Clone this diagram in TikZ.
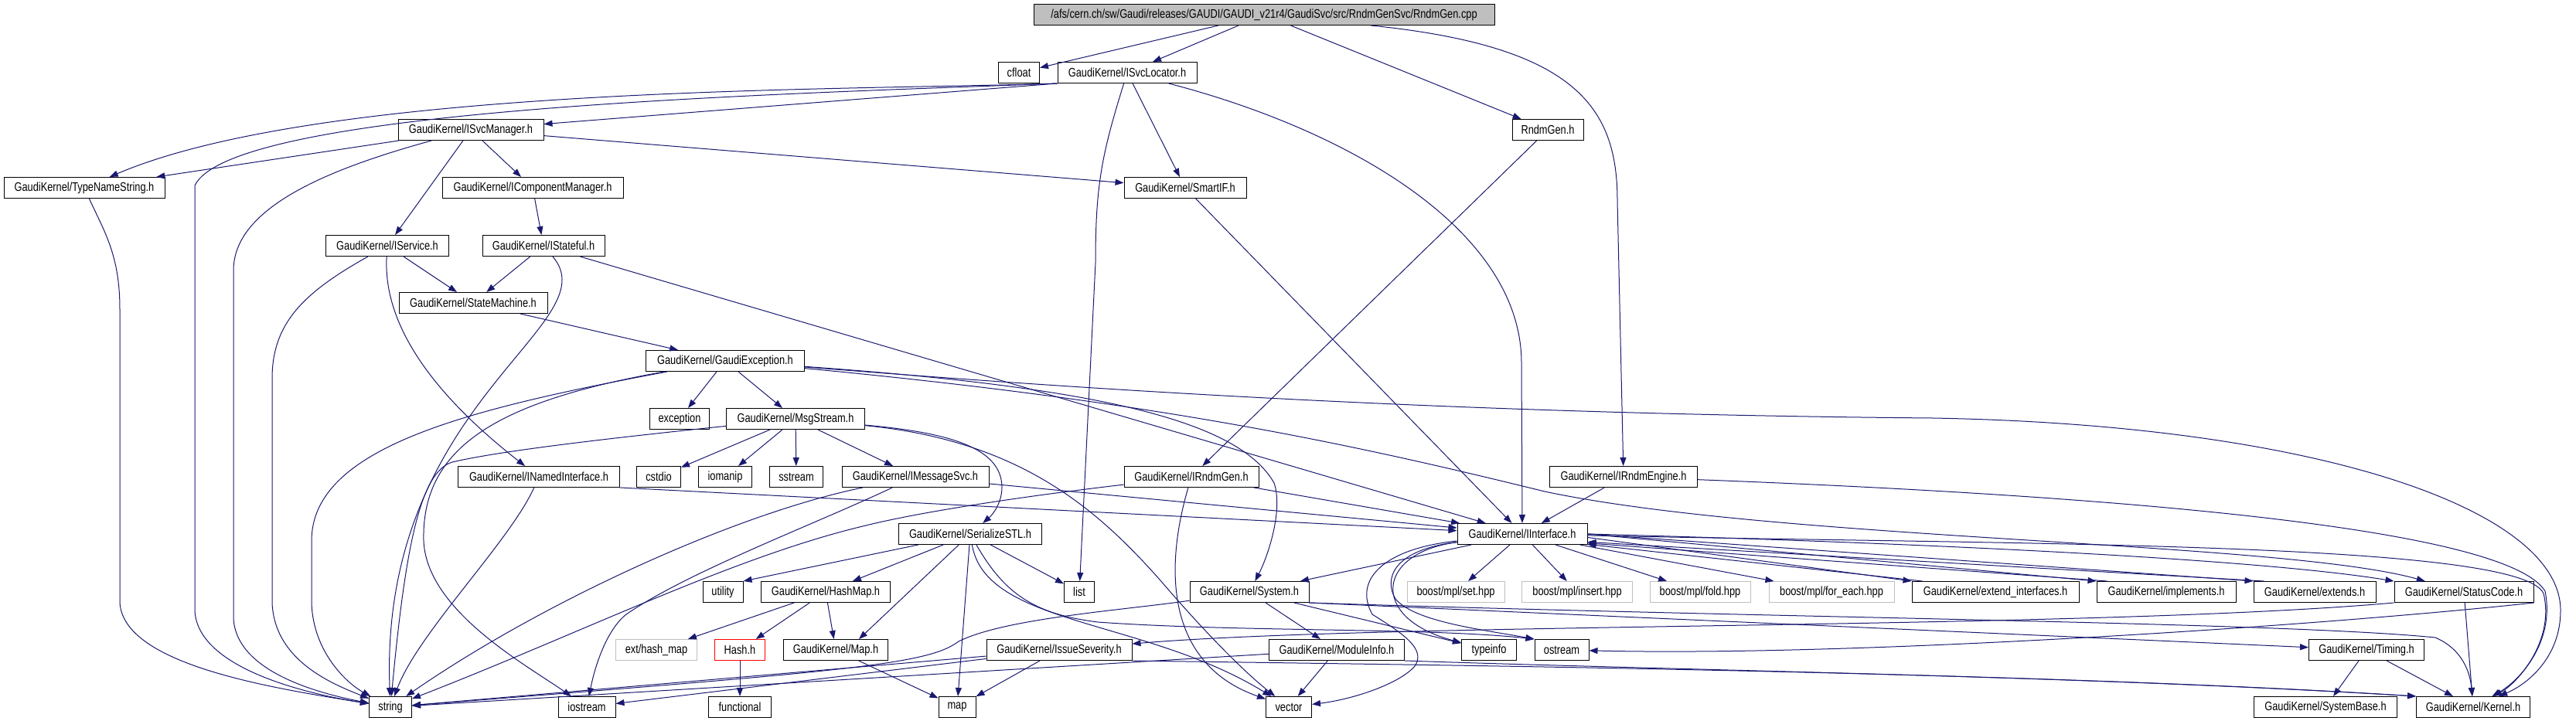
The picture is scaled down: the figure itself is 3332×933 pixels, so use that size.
\documentclass[tikz,border=0pt]{standalone}
\usepackage{fontspec}
\setmainfont[FakeStretch=0.8]{Liberation Sans}
\usetikzlibrary{arrows.meta}
\definecolor{depblue}{HTML}{191970}
\definecolor{rootgray}{HTML}{BFBFBF}
\definecolor{sysgray}{HTML}{BFBFBF}

\begin{document}
\begin{tikzpicture}[x=1pt, y=-1pt,
    hdr/.style={draw=black, line width=1pt, minimum height=27pt, inner sep=2pt,
        font=\fontsize{16}{18}\selectfont},
    extbox/.style={hdr, draw=sysgray},
    hashbox/.style={hdr, draw=red},
    rootbox/.style={hdr, fill=rootgray},
    dep/.style={draw=depblue, line width=1pt, -{Triangle[length=11pt,width=8pt]}}]
    \useasboundingbox (0,0) rectangle (3332,933);

    % the source file and its first includes
    \node[rootbox, minimum width=596pt] (root) at (1635,19)
        {/afs/cern.ch/sw/Gaudi/releases/GAUDI/GAUDI\_v21r4/GaudiSvc/src/RndmGenSvc/RndmGen.cpp};
    \node[hdr, minimum width=53pt] (cfloat) at (1318,94) {cfloat};
    \node[hdr, minimum width=180pt] (isvcloc) at (1458,94) {GaudiKernel/ISvcLocator.h};
    \node[hdr, minimum width=188pt] (isvcmgr) at (609,168) {GaudiKernel/ISvcManager.h};
    \node[hdr, minimum width=92pt] (rndmgen) at (2002,168) {RndmGen.h};
    \node[hdr, minimum width=208pt] (typename) at (109,243) {GaudiKernel/TypeNameString.h};
    \node[hdr, minimum width=234pt] (icompmgr) at (689,243) {GaudiKernel/IComponentManager.h};
    \node[hdr, minimum width=158pt] (smartif) at (1533,243) {GaudiKernel/SmartIF.h};
    \node[hdr, minimum width=159pt] (iservice) at (501,318) {GaudiKernel/IService.h};
    \node[hdr, minimum width=158pt] (istateful) at (703,318) {GaudiKernel/IStateful.h};
    \node[hdr, minimum width=192pt] (statemachine) at (612,392) {GaudiKernel/StateMachine.h};
    \node[hdr, minimum width=205pt] (gaudiexc) at (938,467) {GaudiKernel/GaudiException.h};
    \node[hdr, minimum width=77pt] (exception) at (879,542) {exception};
    \node[hdr, minimum width=179pt] (msgstream) at (1029,542) {GaudiKernel/MsgStream.h};

    % middle rows
    \node[hdr, minimum width=209pt] (inamed) at (697,617) {GaudiKernel/INamedInterface.h};
    \node[hdr, minimum width=57pt] (cstdio) at (852,617) {cstdio};
    \node[hdr, minimum width=69pt] (iomanip) at (938,617) {iomanip};
    \node[hdr, minimum width=69pt] (sstream) at (1030,617) {sstream};
    \node[hdr, minimum width=190pt] (imsgsvc) at (1184,617) {GaudiKernel/IMessageSvc.h};
    \node[hdr, minimum width=174pt] (irndmgen) at (1541,617) {GaudiKernel/IRndmGen.h};
    \node[hdr, minimum width=191pt] (irndmeng) at (2100,617) {GaudiKernel/IRndmEngine.h};
    \node[hdr, minimum width=185pt] (serialize) at (1255,691) {GaudiKernel/SerializeSTL.h};
    \node[hdr, minimum width=168pt] (iinterface) at (1969,691) {GaudiKernel/IInterface.h};

    \node[hdr, minimum width=52pt] (utility) at (935,766) {utility};
    \node[hdr, minimum width=167pt] (hashmap) at (1068,766) {GaudiKernel/HashMap.h};
    \node[hdr, minimum width=39pt] (list) at (1396,766) {list};
    \node[hdr, minimum width=154pt] (system) at (1616,766) {GaudiKernel/System.h};
    \node[extbox, minimum width=126pt] (mplset) at (1883,766) {boost/mpl/set.hpp};
    \node[extbox, minimum width=143pt] (mplinsert) at (2040,766) {boost/mpl/insert.hpp};
    \node[extbox, minimum width=130pt] (mplfold) at (2199,766) {boost/mpl/fold.hpp};
    \node[extbox, minimum width=162pt] (mplforeach) at (2369,766) {boost/mpl/for\_each.hpp};
    \node[hdr, minimum width=216pt] (extifc) at (2581,766) {GaudiKernel/extend\_interfaces.h};
    \node[hdr, minimum width=180pt] (implements) at (2802,766) {GaudiKernel/implements.h};
    \node[hdr, minimum width=158pt] (extends) at (2994,766) {GaudiKernel/extends.h};
    \node[hdr, minimum width=180pt] (statuscode) at (3187,766) {GaudiKernel/StatusCode.h};

    \node[extbox, minimum width=105pt] (exthashmap) at (849,841) {ext/hash\_map};
    \node[hashbox, minimum width=65pt] (hash) at (957,841) {Hash.h};
    \node[hdr, minimum width=135pt] (mapk) at (1081,841) {GaudiKernel/Map.h};
    \node[hdr, minimum width=188pt] (issue) at (1370,841) {GaudiKernel/IssueSeverity.h};
    \node[hdr, minimum width=175pt] (moduleinfo) at (1729,841) {GaudiKernel/ModuleInfo.h};
    \node[hdr, minimum width=71pt] (typeinfo) at (1926,841) {typeinfo};
    \node[hdr, minimum width=70pt] (ostream) at (2020,841) {ostream};
    \node[hdr, minimum width=149pt] (timing) at (3061,841) {GaudiKernel/Timing.h};

    % bottom row
    \node[hdr, minimum width=55pt] (string) at (505,915) {string};
    \node[hdr, minimum width=74pt] (iostream) at (759,915) {iostream};
    \node[hdr, minimum width=81pt] (functional) at (957,915) {functional};
    \node[hdr, minimum width=48pt] (map) at (1238,915) {map};
    \node[hdr, minimum width=59pt] (vector) at (1667,915) {vector};
    \node[hdr, minimum width=185pt] (systembase) at (3008,915) {GaudiKernel/SystemBase.h};
    \node[hdr, minimum width=147pt] (kernel) at (3199,915) {GaudiKernel/Kernel.h};

    % RndmGen.cpp
    \draw[dep] (root) -- (cfloat);
    \draw[dep] (root) -- (isvcloc);
    \draw[dep] (root) -- (rndmgen);
    \draw[dep] (root) .. controls (2040,60) and (2092,140) .. (2092,260) -- (irndmeng);

    % ISvcLocator.h
    \draw[dep] (isvcloc.south west) .. controls (1100,117) and (420,110) .. (typename);
    \draw[dep] (isvcloc.south west) .. controls (1000,122) and (300,140) .. (252,240) -- (252,790)
        .. controls (255,860) and (380,895) .. (string);
    \draw[dep] (isvcloc.south west) -- (isvcmgr);
    \draw[dep] (isvcloc) .. controls (1425,200) and (1417,240) .. (1417,340) -- (list);
    \draw[dep] (isvcloc) -- (smartif);
    \draw[dep] (isvcloc) .. controls (1750,170) and (1968,300) .. (1968,470) -- (iinterface);

    % ISvcManager.h
    \draw[dep] (isvcmgr) -- (typename);
    \draw[dep] (isvcmgr) .. controls (420,220) and (302,270) .. (302,350) -- (302,800)
        .. controls (305,865) and (400,895) .. (string);
    \draw[dep] (isvcmgr) -- (iservice);
    \draw[dep] (isvcmgr) -- (icompmgr);
    \draw[dep] (isvcmgr) -- (smartif);

    \draw[dep] (typename) .. controls (135,300) and (155,330) .. (155,400) -- (155,780)
        .. controls (160,860) and (350,890) .. (string);
    \draw[dep] (icompmgr) -- (istateful);
    \draw[dep] (smartif) -- (iinterface);
    \draw[dep] (rndmgen) -- (irndmgen);

    % IService.h and IStateful.h
    \draw[dep] (iservice) .. controls (390,380) and (352,420) .. (352,490) -- (352,780)
        .. controls (355,855) and (430,885) .. (string);
    \draw[dep] (iservice) -- (statemachine);
    \draw[dep] (iservice) .. controls (495,420) and (560,510) .. (inamed);
    \draw[dep] (istateful) -- (statemachine);
    \draw[dep] (istateful) .. controls (790,420) and (490,520) .. (string);
    \draw[dep] (istateful) -- (iinterface);
    \draw[dep] (statemachine) -- (gaudiexc);

    % GaudiException.h
    \draw[dep] (gaudiexc) .. controls (600,530) and (403,580) .. (403,700) -- (403,780)
        .. controls (405,845) and (450,885) .. (string);
    \draw[dep] (gaudiexc) .. controls (640,520) and (545,580) .. (548,700)
        .. controls (552,790) and (680,860) .. (iostream);
    \draw[dep] (gaudiexc) -- (exception);
    \draw[dep] (gaudiexc) -- (msgstream);
    \draw[dep] (gaudiexc) .. controls (1400,500) and (1600,540) .. (1648,625)
        .. controls (1660,660) and (1640,720) .. (system);
    \draw[dep] (gaudiexc) .. controls (1500,520) and (1750,575) .. (1998,636)
        .. controls (2300,700) and (2950,700) .. (statuscode);
    \draw[dep] (gaudiexc) .. controls (1300,495) and (1800,535) .. (2500,541)
        .. controls (3000,550) and (3312,660) .. (3312,790)
        .. controls (3312,850) and (3270,885) .. (kernel);

    % MsgStream.h
    \draw[dep] (msgstream) .. controls (760,570) and (640,585) .. (585,598)
        .. controls (545,610) and (525,700) .. (string);
    \draw[dep] (msgstream) -- (cstdio);
    \draw[dep] (msgstream) -- (iomanip);
    \draw[dep] (msgstream) -- (sstream);
    \draw[dep] (msgstream) -- (imsgsvc);
    \draw[dep] (msgstream) .. controls (1230,560) and (1295,580) .. (1296,630)
        .. controls (1296,650) and (1285,665) .. (serialize);
    \draw[dep] (msgstream) .. controls (1320,570) and (1420,660) .. (1500,750)
        .. controls (1560,820) and (1610,870) .. (vector);

    % INamedInterface.h, IMessageSvc.h, IRndmGen.h, IRndmEngine.h
    \draw[dep] (inamed.south east) -- (iinterface);
    \draw[dep] (inamed) .. controls (660,700) and (540,820) .. (string);
    \draw[dep] (imsgsvc) -- (iinterface);
    \draw[dep] (imsgsvc) .. controls (950,665) and (700,780) .. (string);
    \draw[dep] (imsgsvc) .. controls (1050,680) and (890,740) .. (810,795)
        .. controls (785,815) and (770,860) .. (iostream);
    \draw[dep] (irndmgen) -- (iinterface);
    \draw[dep] (irndmgen) .. controls (1300,645) and (1180,665) .. (1120,680)
        .. controls (950,720) and (750,820) .. (string);
    \draw[dep] (irndmgen) .. controls (1505,740) and (1510,860) .. (vector);
    \draw[dep] (irndmeng) -- (iinterface);
    \draw[dep] (irndmeng) .. controls (2700,640) and (3240,680) .. (3292,765)
        .. controls (3305,830) and (3260,880) .. (kernel);

    % SerializeSTL.h and HashMap.h
    \draw[dep] (serialize) -- (utility.north east);
    \draw[dep] (serialize) -- (hashmap);
    \draw[dep] (serialize) -- (mapk.25);
    \draw[dep] (serialize) -- (map);
    \draw[dep] (serialize) -- (list);
    \draw[dep] (serialize) .. controls (1275,810) and (1480,800) .. (vector);
    \draw[dep] (serialize) .. controls (1300,770) and (1340,795) .. (1420,805)
        .. controls (1600,818) and (1850,812) .. (ostream.north west);
    \draw[dep] (hashmap) -- (exthashmap);
    \draw[dep] (hashmap) -- (hash);
    \draw[dep] (hashmap) -- (mapk);
    \draw[dep] (hash) -- (functional);
    \draw[dep] (mapk) -- (map);

    % IInterface.h
    \draw[dep] (iinterface) -- (system);
    \draw[dep] (iinterface) -- (mplset);
    \draw[dep] (iinterface) -- (mplinsert);
    \draw[dep] (iinterface) -- (mplfold);
    \draw[dep] (iinterface) -- (mplforeach);
    \draw[dep] (iinterface.-3) -- (extifc.north west);
    \draw[dep] ([xshift=14pt]extifc.north west) -- (iinterface.-9);
    \draw[dep] (iinterface.east) -- (implements.north west);
    \draw[dep] ([xshift=14pt]implements.north west) -- (iinterface.-8);
    \draw[dep] (iinterface.east) -- (extends.north west);
    \draw[dep] ([xshift=14pt]extends.north west) -- (iinterface.-7);
    \draw[dep] (iinterface.east) .. controls (2400,700) and (2900,720) .. (statuscode.north west);
    \draw[dep] (iinterface) .. controls (1780,715) and (1770,800) .. (typeinfo);
    \draw[dep] (iinterface) .. controls (1800,712) and (1790,750) .. (1805,775)
        .. controls (1830,805) and (1920,815) .. (ostream.north west);
    \draw[dep] (iinterface) .. controls (1790,710) and (1750,750) .. (1775,795)
        .. controls (1815,820) and (1845,840) .. (1830,862)
        .. controls (1810,885) and (1750,905) .. (vector);
    \draw[dep] (iinterface) .. controls (2600,705) and (3260,700) .. (3290,768)
        .. controls (3305,830) and (3255,885) .. (kernel);

    % System.h
    \draw[dep] (system) -- (moduleinfo);
    \draw[dep] (system) -- (typeinfo);
    \draw[dep] (system) .. controls (1450,790) and (1300,800) .. (1240,830)
        .. controls (1200,860) and (1100,868) .. (string);
    \draw[dep] (system.south east) -- (timing);
    \draw[dep] (system.south east) .. controls (2300,800) and (2950,805) .. (3150,825)
        .. controls (3185,840) and (3195,870) .. (kernel);

    % IssueSeverity.h, ModuleInfo.h, StatusCode.h, Timing.h
    \draw[dep] (issue) -- (string);
    \draw[dep] (issue) -- (iostream);
    \draw[dep] (issue) -- (map);
    \draw[dep] (issue.south east) .. controls (1800,860) and (2600,868) .. (kernel.north west);
    \draw[dep] (moduleinfo) -- (string);
    \draw[dep] (moduleinfo) -- (vector);
    \draw[dep] (moduleinfo.south east) .. controls (2200,868) and (2700,875) .. (kernel.north west);
    \draw[dep] (statuscode.south west) .. controls (2700,815) and (1800,805) .. (issue);
    \draw[dep] (statuscode.south east) .. controls (3000,810) and (2400,850) .. (ostream);
    \draw[dep] (statuscode) -- (kernel);
    \draw[dep] (timing) -- (systembase);
    \draw[dep] (timing) -- (kernel);
\end{tikzpicture}
\end{document}
